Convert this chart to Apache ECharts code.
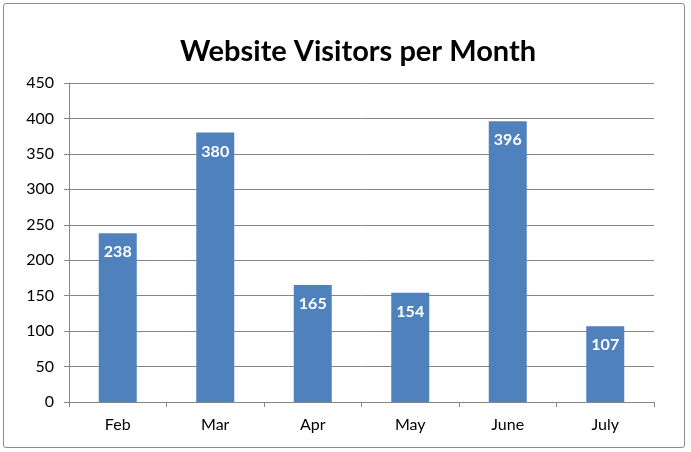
<!DOCTYPE html>
<html><head><meta charset="utf-8">
<script src="https://cdn.jsdelivr.net/npm/echarts@6/dist/echarts.min.js"></script>
<style>
html,body{margin:0;padding:0;background:#fff;}
#frame{position:absolute;left:3px;top:3px;width:682px;height:445px;border:1.5px solid #8c8c8c;border-radius:3px;box-sizing:border-box;}
#c{position:absolute;left:0;top:0;width:691px;height:452px;}
</style>
</head><body>
<div id="frame"></div>
<div id="c"></div>
<script>
const categories = ['Feb','Mar','Apr','May','June','July'];
const visitors = [238, 380, 165, 154, 396, 107];
const chartTitle = 'Website Visitors per Month';

const chart = echarts.init(document.getElementById('c'), null, {renderer:'canvas'});
const font = 'Lato, "Open Sans", sans-serif';
chart.setOption({
  animation:false,
  backgroundColor:'transparent',
  title:{text:chartTitle,top:32,left:353,textAlign:'center',
    textStyle:{fontFamily:font,fontWeight:'bold',fontSize:29,color:'#000'}},
  grid:{left:69,right:37,top:83,bottom:50},
  xAxis:{type:'category',data:categories,
    axisLine:{show:true,lineStyle:{color:'#868686',width:1}},
    axisTick:{show:true,length:5,lineStyle:{color:'#868686'}},
    axisLabel:{fontFamily:font,fontSize:16,color:'#000',margin:15}},
  yAxis:{type:'value',min:0,max:450,interval:50,
    axisLine:{show:true,lineStyle:{color:'#868686',width:1}},
    axisTick:{show:true,length:5,lineStyle:{color:'#868686'}},
    splitLine:{lineStyle:{color:'#868686',width:1}},
    axisLabel:{fontFamily:font,fontSize:16,color:'#000',margin:15}},
  series:[{type:'bar',data:visitors,barWidth:38,
    itemStyle:{color:'#4f81bd'},
    label:{show:true,position:'insideTop',distance:11,color:'#fff',
      fontFamily:font,fontWeight:'bold',fontSize:16}}]
});
</script>
</body></html>
